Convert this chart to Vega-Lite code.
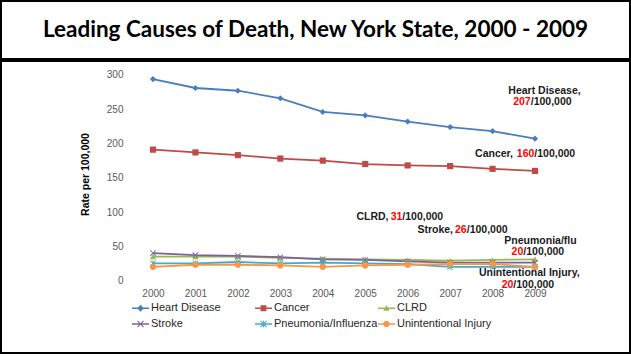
{
  "$schema": "https://vega.github.io/schema/vega-lite/v6.json",
  "padding": 0,
  "spacing": 0,
  "background": "white",
  "config": {"font": "Liberation Sans", "view": {"stroke": "#000000", "strokeWidth": 2}},
  "datasets": {
    "series": [
      {"cause": "Heart Disease", "year": 2000, "value": 294}, {"cause": "Heart Disease", "year": 2001, "value": 281}, {"cause": "Heart Disease", "year": 2002, "value": 277}, {"cause": "Heart Disease", "year": 2003, "value": 266}, {"cause": "Heart Disease", "year": 2004, "value": 246}, {"cause": "Heart Disease", "year": 2005, "value": 241}, {"cause": "Heart Disease", "year": 2006, "value": 232}, {"cause": "Heart Disease", "year": 2007, "value": 224}, {"cause": "Heart Disease", "year": 2008, "value": 218}, {"cause": "Heart Disease", "year": 2009, "value": 207},
      {"cause": "Cancer", "year": 2000, "value": 191}, {"cause": "Cancer", "year": 2001, "value": 187}, {"cause": "Cancer", "year": 2002, "value": 183}, {"cause": "Cancer", "year": 2003, "value": 178}, {"cause": "Cancer", "year": 2004, "value": 175}, {"cause": "Cancer", "year": 2005, "value": 170}, {"cause": "Cancer", "year": 2006, "value": 168}, {"cause": "Cancer", "year": 2007, "value": 167}, {"cause": "Cancer", "year": 2008, "value": 163}, {"cause": "Cancer", "year": 2009, "value": 160},
      {"cause": "CLRD", "year": 2000, "value": 35}, {"cause": "CLRD", "year": 2001, "value": 35}, {"cause": "CLRD", "year": 2002, "value": 35}, {"cause": "CLRD", "year": 2003, "value": 33}, {"cause": "CLRD", "year": 2004, "value": 32}, {"cause": "CLRD", "year": 2005, "value": 31}, {"cause": "CLRD", "year": 2006, "value": 30}, {"cause": "CLRD", "year": 2007, "value": 29}, {"cause": "CLRD", "year": 2008, "value": 30}, {"cause": "CLRD", "year": 2009, "value": 31},
      {"cause": "Stroke", "year": 2000, "value": 40}, {"cause": "Stroke", "year": 2001, "value": 37}, {"cause": "Stroke", "year": 2002, "value": 36}, {"cause": "Stroke", "year": 2003, "value": 34}, {"cause": "Stroke", "year": 2004, "value": 31}, {"cause": "Stroke", "year": 2005, "value": 30}, {"cause": "Stroke", "year": 2006, "value": 28}, {"cause": "Stroke", "year": 2007, "value": 26}, {"cause": "Stroke", "year": 2008, "value": 26}, {"cause": "Stroke", "year": 2009, "value": 26},
      {"cause": "Pneumonia/Influenza", "year": 2000, "value": 25}, {"cause": "Pneumonia/Influenza", "year": 2001, "value": 25}, {"cause": "Pneumonia/Influenza", "year": 2002, "value": 27}, {"cause": "Pneumonia/Influenza", "year": 2003, "value": 25}, {"cause": "Pneumonia/Influenza", "year": 2004, "value": 26}, {"cause": "Pneumonia/Influenza", "year": 2005, "value": 25}, {"cause": "Pneumonia/Influenza", "year": 2006, "value": 24}, {"cause": "Pneumonia/Influenza", "year": 2007, "value": 20}, {"cause": "Pneumonia/Influenza", "year": 2008, "value": 20}, {"cause": "Pneumonia/Influenza", "year": 2009, "value": 20},
      {"cause": "Unintentional Injury", "year": 2000, "value": 20}, {"cause": "Unintentional Injury", "year": 2001, "value": 23}, {"cause": "Unintentional Injury", "year": 2002, "value": 23}, {"cause": "Unintentional Injury", "year": 2003, "value": 22}, {"cause": "Unintentional Injury", "year": 2004, "value": 20}, {"cause": "Unintentional Injury", "year": 2005, "value": 22}, {"cause": "Unintentional Injury", "year": 2006, "value": 23}, {"cause": "Unintentional Injury", "year": 2007, "value": 24}, {"cause": "Unintentional Injury", "year": 2008, "value": 24}, {"cause": "Unintentional Injury", "year": 2009, "value": 20}
    ],
    "grid": [{"value": 50}, {"value": 100}, {"value": 150}, {"value": 200}, {"value": 250}, {"value": 300}],
    "labels": [
      {"seg": "center", "text": "Heart Disease,", "year": 2009.224, "value": 276.6},
      {"seg": "num", "text": "207", "year": 2008.899, "value": 261.0},
      {"seg": "suffix", "text": "/100,000", "year": 2008.899, "value": 261.0},
      {"seg": "prefix", "text": "Cancer,", "year": 2008.482, "value": 185.1},
      {"seg": "num", "text": "160", "year": 2008.984, "value": 185.1},
      {"seg": "suffix", "text": "/100,000", "year": 2008.984, "value": 185.1},
      {"seg": "prefix", "text": "CLRD,", "year": 2005.548, "value": 93.1},
      {"seg": "num", "text": "31", "year": 2005.874, "value": 93.1},
      {"seg": "suffix", "text": "/100,000", "year": 2005.874, "value": 93.1},
      {"seg": "prefix", "text": "Stroke,", "year": 2007.068, "value": 73.7},
      {"seg": "num", "text": "26", "year": 2007.391, "value": 73.7},
      {"seg": "suffix", "text": "/100,000", "year": 2007.391, "value": 73.7},
      {"seg": "center", "text": "Pneumonia/flu", "year": 2009.130, "value": 57.2},
      {"seg": "num", "text": "20", "year": 2008.724, "value": 41.6},
      {"seg": "suffix", "text": "/100,000", "year": 2008.724, "value": 41.6},
      {"seg": "center", "text": "Unintentional Injury,", "year": 2008.866, "value": 10.5},
      {"seg": "num", "text": "20", "year": 2008.489, "value": -6.1},
      {"seg": "suffix", "text": "/100,000", "year": 2008.489, "value": -6.1}
    ]
  },
  "vconcat": [
    {
      "width": 629,
      "height": 58,
      "view": {"stroke": null},
      "data": {"values": [{"title": "Leading Causes of Death, New York State, 2000 - 2009"}]},
      "layer": [
        {
          "mark": {"type": "rect", "fill": "#ffffff", "stroke": "#000000", "strokeWidth": 2},
          "encoding": {
            "x": {"datum": 0, "type": "quantitative", "scale": {"domain": [0, 1], "nice": false, "zero": false}, "axis": null},
            "x2": {"datum": 1},
            "y": {"datum": 0, "type": "quantitative", "scale": {"domain": [0, 1], "nice": false, "zero": false}, "axis": null},
            "y2": {"datum": 1}
          }
        },
        {
          "mark": {"type": "text", "font": "Lato", "fontWeight": "bold", "fontSize": 22.5, "color": "#000000", "align": "center", "baseline": "middle"},
          "encoding": {
            "x": {"datum": 0.5, "type": "quantitative"},
            "y": {"datum": 0.5, "type": "quantitative"},
            "text": {"field": "title", "type": "nominal"}
          }
        }
      ]
    },
    {
      "width": 629,
      "height": 292,
      "encoding": {
        "x": {"field": "year", "type": "quantitative", "scale": {"domain": [1996.419, 2011.238], "nice": false, "zero": false},
          "axis": {"orient": "bottom", "offset": -72.5, "values": [2000, 2001, 2002, 2003, 2004, 2005, 2006, 2007, 2008, 2009], "format": "d", "domain": false, "ticks": false, "grid": false, "labelPadding": 8, "labelFontSize": 10, "labelColor": "#595959", "labelFlush": false, "labelOverlap": false, "title": null}},
        "y": {"field": "value", "type": "quantitative", "scale": {"domain": [-105.8, 320.4], "nice": false, "zero": false},
          "axis": {"orient": "left", "offset": -131, "values": [0, 50, 100, 150, 200, 250, 300], "domain": false, "ticks": false, "grid": false, "labelPadding": 9, "labelFontSize": 10, "labelColor": "#595959", "labelFlush": false, "labelOverlap": false, "title": "Rate per 100,000", "titleFontSize": 10.5, "titleFontWeight": "bold", "titleColor": "#000000", "titleX": -47, "titleY": 113, "titleAngle": -90, "titleAlign": "center", "titleBaseline": "middle"}}
      },
      "layer": [
        {
          "data": {"name": "grid"},
          "mark": {"type": "rule", "color": "#d9d9d9", "strokeWidth": 1},
          "encoding": {"x": {"datum": 1999.5}, "x2": {"datum": 2009.5}}
        },
        {
          "data": {"values": [{"value": 0}]},
          "mark": {"type": "rule", "color": "#bfbfbf", "strokeWidth": 1},
          "encoding": {"x": {"datum": 1999.5}, "x2": {"datum": 2009.5}}
        },
        {
          "data": {"values": [{"year": 1999.5}]},
          "mark": {"type": "rule", "color": "#bfbfbf", "strokeWidth": 1},
          "encoding": {"y": {"datum": 0}, "y2": {"datum": 300}}
        },
        {
          "data": {"name": "series"},
          "mark": {"type": "line", "strokeWidth": 1.8},
          "encoding": {
            "color": {
              "field": "cause", "type": "nominal",
              "scale": {"domain": ["Heart Disease", "Cancer", "CLRD", "Stroke", "Pneumonia/Influenza", "Unintentional Injury"], "range": ["#4a7ebb", "#be4b48", "#98b954", "#7d60a0", "#46aac5", "#f79646"]},
              "legend": {
                "orient": "none", "legendX": 131, "legendY": 298.5, "direction": "horizontal", "columns": 3, "gridAlign": "all",
                "columnPadding": 0, "rowPadding": 2, "padding": 0, "symbolSize": 289, "symbolStrokeWidth": 0, "labelFont": "Liberation Sans", "labelFontSize": 11,
                "labelColor": "#262626", "labelOffset": 2, "labelLimit": 200, "title": null,
                "encode": {
                  "symbols": {
                    "update": {
                      "shape": {"signal": "datum.value === 'Heart Disease' ? 'M-1,-0.09L1,-0.09L1,0.09L-1,0.09Z M0,-0.4L0.4,0L0,0.4L-0.4,0Z' : datum.value === 'Cancer' ? 'M-1,-0.09L1,-0.09L1,0.09L-1,0.09Z M-0.34,-0.34L0.34,-0.34L0.34,0.34L-0.34,0.34Z' : datum.value === 'CLRD' ? 'M-1,-0.09L1,-0.09L1,0.09L-1,0.09Z M0,-0.38L0.38,0.3L-0.38,0.3Z' : datum.value === 'Stroke' ? 'M-1,-0.08L1,-0.08L1,0.08L-1,0.08Z M-0.4,-0.32L-0.32,-0.4L0,-0.08L0.32,-0.4L0.4,-0.32L0.08,0L0.4,0.32L0.32,0.4L0,0.08L-0.32,0.4L-0.4,0.32L-0.08,0Z' : datum.value === 'Pneumonia/Influenza' ? 'M-1,-0.08L1,-0.08L1,0.08L-1,0.08Z M-0.4,-0.32L-0.32,-0.4L0,-0.08L0.32,-0.4L0.4,-0.32L0.08,0L0.4,0.32L0.32,0.4L0,0.08L-0.32,0.4L-0.4,0.32L-0.08,0Z M-0.05,-0.42L0.05,-0.42L0.05,0.42L-0.05,0.42Z' : 'M-1,-0.09L1,-0.09L1,0.09L-1,0.09Z M-0.38,0A0.38,0.38,0,1,1,0.38,0A0.38,0.38,0,1,1,-0.38,0Z'"},
                      "fill": {"scale": "color", "field": "value"},
                      "stroke": {"value": "transparent"},
                      "opacity": {"value": 1}
                    }
                  }
                }
              }
            }
          }
        },
        {
          "data": {"name": "series"},
          "mark": {"type": "point", "filled": true, "size": 38, "opacity": 1},
          "encoding": {
            "color": {"field": "cause", "type": "nominal"},
            "shape": {
              "field": "cause", "type": "nominal", "legend": null,
              "scale": {"domain": ["Cancer", "Heart Disease", "CLRD", "Stroke", "Pneumonia/Influenza", "Unintentional Injury"], "range": ["square", "diamond", "triangle-up", "M-1,-0.8L-0.8,-1L0,-0.2L0.8,-1L1,-0.8L0.2,0L1,0.8L0.8,1L0,0.2L-0.8,1L-1,0.8L-0.2,0Z", "M-1,-0.8L-0.8,-1L0,-0.2L0.8,-1L1,-0.8L0.2,0L1,0.8L0.8,1L0,0.2L-0.8,1L-1,0.8L-0.2,0Z M-0.13,-1L0.13,-1L0.13,1L-0.13,1Z", "circle"]}
            }
          }
        },
        {
          "data": {"name": "labels"},
          "transform": [{"filter": "datum.seg === 'center'"}],
          "mark": {"type": "text", "align": "center", "baseline": "middle", "fontSize": 10.5, "fontWeight": "bold", "font": "Liberation Sans", "color": "#1a1a1a"},
          "encoding": {"text": {"field": "text"}}
        },
        {
          "data": {"name": "labels"},
          "transform": [{"filter": "datum.seg === 'prefix'"}],
          "mark": {"type": "text", "align": "right", "baseline": "middle", "fontSize": 10.5, "fontWeight": "bold", "font": "Liberation Sans", "color": "#1a1a1a"},
          "encoding": {"text": {"field": "text"}}
        },
        {
          "data": {"name": "labels"},
          "transform": [{"filter": "datum.seg === 'num'"}],
          "mark": {"type": "text", "align": "right", "baseline": "middle", "fontSize": 10.5, "fontWeight": "bold", "font": "Liberation Sans", "color": "#ff0000"},
          "encoding": {"text": {"field": "text"}}
        },
        {
          "data": {"name": "labels"},
          "transform": [{"filter": "datum.seg === 'suffix'"}],
          "mark": {"type": "text", "align": "left", "baseline": "middle", "fontSize": 10.5, "fontWeight": "bold", "font": "Liberation Sans", "color": "#1a1a1a"},
          "encoding": {"text": {"field": "text"}}
        }
      ]
    }
  ]
}
